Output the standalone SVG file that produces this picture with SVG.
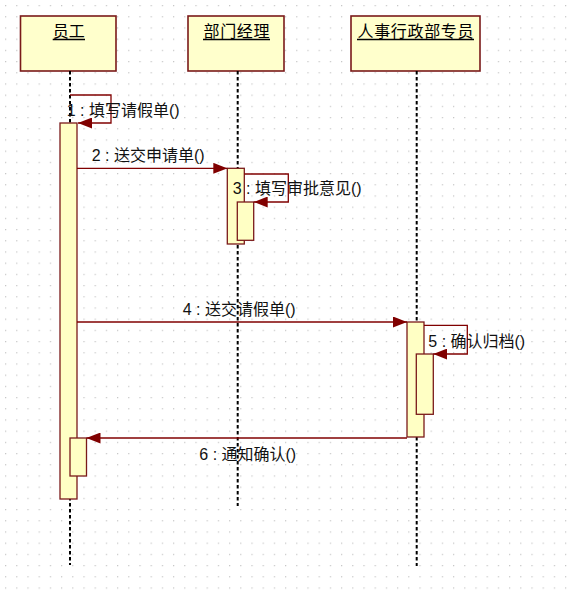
<svg xmlns="http://www.w3.org/2000/svg" width="572" height="590" viewBox="0 0 572 590">
<defs>
<pattern id="grid" x="5" y="5" width="11.2" height="11.2" patternUnits="userSpaceOnUse"><rect x="0" y="0" width="1.2" height="1.2" fill="#c4c4c4"/></pattern>
<marker id="arrow" markerUnits="userSpaceOnUse" markerWidth="14" markerHeight="11" refX="14" refY="5.5" orient="auto"><path d="M0,0 L14,5.5 L0,11 Z" fill="#800000"/></marker>
</defs>
<style>
.box{fill:#FFFFCC;stroke:#7a1a1a;stroke-width:1.6}
.act{fill:#FFFFC4;stroke:#7a1a1a;stroke-width:1.3}
.life{stroke:#000;stroke-width:2;stroke-dasharray:3.5 2.5;fill:none}
.msg{stroke:#800000;stroke-width:1.3;fill:none;marker-end:url(#arrow)}
.title{font-family:"Noto Sans CJK SC","Liberation Sans",sans-serif;font-size:16px;fill:#000;text-anchor:middle}
.lbl{font-family:"Liberation Sans","Noto Sans CJK SC",sans-serif;font-size:16px;fill:#111}
.ul{stroke:#000;stroke-width:1.3}
</style>
<rect x="0" y="0" width="572" height="590" fill="#ffffff"/>
<rect x="0" y="0" width="572" height="590" fill="url(#grid)"/>

<g id="node-yuangong">
<rect class="box" x="20.5" y="16" width="95.5" height="55"/>
<text class="title" x="68.8" y="36.5">员工</text>
<line class="ul" x1="52.7" y1="39.5" x2="85" y2="39.5"/>
<line class="life" x1="70" y1="71" x2="70" y2="565"/>
<rect class="act" x="60" y="123" width="17" height="376"/>
<rect class="act" x="70" y="438" width="16.5" height="38"/>
</g>

<g id="node-bumenjingli">
<rect class="box" x="188" y="16" width="96" height="55"/>
<text class="title" x="236.5" y="36.5" textLength="66" lengthAdjust="spacing">部门经理</text>
<line class="ul" x1="203" y1="39.5" x2="270" y2="39.5"/>
<line class="life" x1="237.7" y1="71" x2="237.7" y2="506"/>
<rect class="act" x="227.3" y="168.3" width="17" height="75.7"/>
<rect class="act" x="237.3" y="202" width="16.4" height="38.3"/>
</g>

<g id="node-renshi">
<rect class="box" x="351" y="16" width="129" height="55"/>
<text class="title" x="415.5" y="36.5" textLength="116" lengthAdjust="spacing">人事行政部专员</text>
<line class="ul" x1="357" y1="39.5" x2="474" y2="39.5"/>
<line class="life" x1="416.7" y1="71" x2="416.7" y2="566"/>
<rect class="act" x="407" y="322" width="17" height="115"/>
<rect class="act" x="416.3" y="354" width="17" height="60.3"/>
</g>

<g id="connectors">
<polyline class="msg" points="70,95 111,95 111,123 78,123"/>
<line class="msg" x1="77" y1="168.3" x2="227.3" y2="168.3"/>
<polyline class="msg" points="244.3,174 288.3,174 288.3,202 253.7,202"/>
<line class="msg" x1="77" y1="322" x2="407" y2="322"/>
<polyline class="msg" points="424,325.3 467.3,325.3 467.3,354 433.3,354"/>
<line class="msg" x1="407" y1="438" x2="86.5" y2="438"/>
<text class="lbl" x="66.7" y="115.5">1 : 填写请假单()</text>
<text class="lbl" x="91.7" y="160.5">2 : 送交申请单()</text>
<text class="lbl" x="232.7" y="193.5">3 : 填写审批意见()</text>
<text class="lbl" x="182.7" y="315">4 : 送交请假单()</text>
<text class="lbl" x="428.3" y="346.5">5 : 确认归档()</text>
<text class="lbl" x="199.3" y="460">6 : 通知确认()</text>
</g>
</svg>
